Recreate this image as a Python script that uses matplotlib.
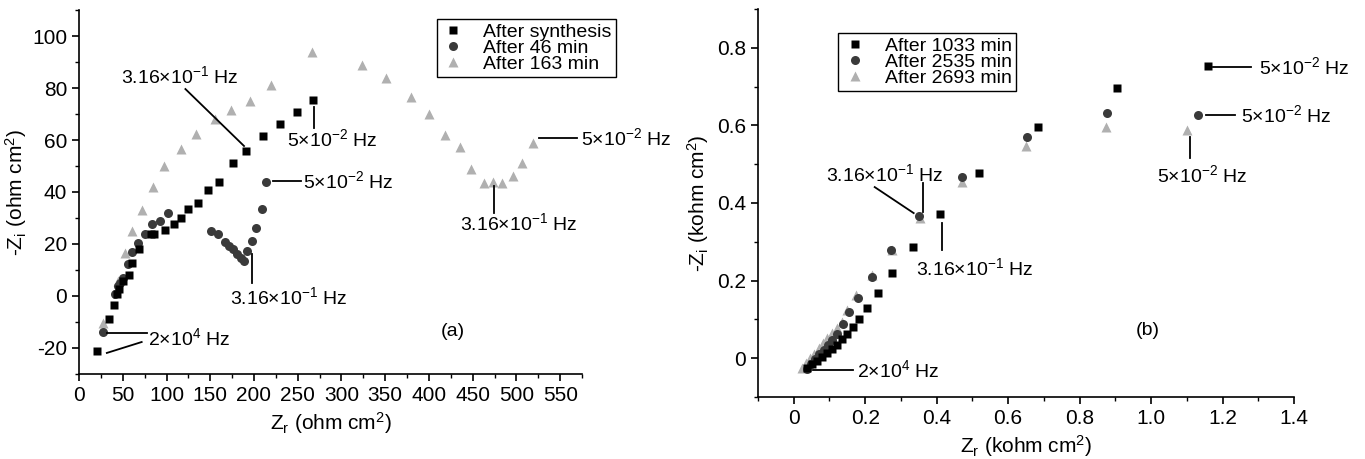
import matplotlib
matplotlib.use("Agg")
import matplotlib.pyplot as plt
from matplotlib.ticker import MultipleLocator

plt.rcParams['font.family'] = ['Liberation Sans', 'DejaVu Sans']
plt.rcParams['mathtext.fontset'] = 'custom'
plt.rcParams['mathtext.rm'] = 'Liberation Sans'
plt.rcParams['mathtext.it'] = 'Liberation Sans'
plt.rcParams['axes.unicode_minus'] = False
plt.rcParams['font.size'] = 14

# panel (a), ohm cm2
a_synth_x = [20, 34, 40, 43, 46, 50, 57, 60, 69, 82, 86, 98, 108, 117, 125, 136, 147, 160, 176, 191, 210, 230, 249, 267]
a_synth_y = [-21, -8.8, -3.5, 0.8, 2.7, 5.8, 8, 12.7, 18, 24, 23.8, 25.4, 27.7, 30, 33.4, 35.8, 40.8, 44, 51, 55.8, 61.4, 66, 70.8, 75.4]
a_46_x = [27, 41, 45, 47, 50, 56, 61, 67, 75, 83, 92, 102, 151, 159, 167, 172, 176, 181, 185, 189, 192, 198, 202, 209, 214]
a_46_y = [-14, 0.8, 3.8, 5, 7, 12.3, 17, 20.4, 23.8, 27.7, 28.8, 32, 25, 23.8, 20.8, 19.2, 18, 16.2, 14.6, 13.5, 17.3, 21, 26, 33.5, 44]
a_163_x = [27, 45, 53, 61, 72, 84, 97, 116, 134, 155, 174, 195, 220, 266, 323, 351, 379, 400, 418, 436, 448, 463, 473, 483, 496, 506, 519]
a_163_y = [-10.5, 5.8, 16.5, 25, 33, 42, 50, 56.5, 62.5, 68, 71.5, 75, 81, 94, 89, 84, 76.5, 70, 62, 57.5, 49, 43.5, 44, 43.5, 46, 51, 59]

# panel (b), kohm cm2
b_1033_x = [0.036, 0.05, 0.064, 0.078, 0.092, 0.106, 0.120, 0.134, 0.148, 0.165, 0.182, 0.204, 0.235, 0.274, 0.333, 0.408, 0.518, 0.683, 0.905, 1.158]
b_1033_y = [-0.024, -0.016, -0.008, 0.003, 0.013, 0.023, 0.034, 0.049, 0.062, 0.080, 0.100, 0.129, 0.168, 0.219, 0.286, 0.372, 0.477, 0.597, 0.697, 0.752]
b_2535_x = [0.036, 0.048, 0.06, 0.072, 0.084, 0.096, 0.108, 0.12, 0.137, 0.154, 0.179, 0.218, 0.271, 0.350, 0.470, 0.652, 0.878, 1.13]
b_2535_y = [-0.028, -0.015, -0.003, 0.01, 0.022, 0.035, 0.048, 0.062, 0.088, 0.119, 0.155, 0.209, 0.279, 0.366, 0.467, 0.570, 0.632, 0.627]
b_2693_x = [0.022, 0.034, 0.046, 0.058, 0.07, 0.082, 0.094, 0.106, 0.12, 0.134, 0.149, 0.173, 0.218, 0.274, 0.352, 0.472, 0.649, 0.873, 1.10]
b_2693_y = [-0.024, -0.012, 0.0, 0.012, 0.025, 0.038, 0.051, 0.064, 0.078, 0.093, 0.124, 0.163, 0.214, 0.279, 0.361, 0.455, 0.547, 0.597, 0.588]

BLACK = 'black'
DARK = '#3a3a3a'
LIGHT = '#b0b0b0'

F316 = r'3.16$\times$10$^{-1}$ Hz'
F5 = r'5$\times$10$^{-2}$ Hz'
F2 = r'2$\times$10$^{4}$ Hz'

fig = plt.figure(figsize=(13.65, 4.59), dpi=100)
axa = fig.add_axes([0.0579, 0.1852, 0.3685, 0.7930])
axb = fig.add_axes([0.5553, 0.1351, 0.3927, 0.8453])


def style(ax):
    ax.spines['top'].set_visible(False)
    ax.spines['right'].set_visible(False)
    ax.tick_params(which='major', direction='out', length=5, width=1.2, labelsize=15)
    ax.tick_params(which='minor', direction='out', length=3, width=1)
    for s in ('left', 'bottom'):
        ax.spines[s].set_linewidth(1.2)


def seg(ax, x0, y0, x1, y1):
    ax.plot([x0, x1], [y0, y1], color='black', lw=1.3, clip_on=False)


# ---- (a)
axa.plot(a_163_x, a_163_y, '^', color=LIGHT, ms=6.5, mec='none', label='After 163 min', clip_on=False)
axa.plot(a_46_x, a_46_y, 'o', color=DARK, ms=6.5, mec='none', label='After 46 min', clip_on=False)
axa.plot(a_synth_x, a_synth_y, 's', color=BLACK, ms=5.5, mec='none', label='After synthesis', clip_on=False)
axa.set_xlim(0, 575)
axa.set_ylim(-30, 110)
axa.xaxis.set_major_locator(MultipleLocator(50))
axa.xaxis.set_minor_locator(MultipleLocator(25))
axa.yaxis.set_major_locator(MultipleLocator(20))
axa.yaxis.set_minor_locator(MultipleLocator(10))
style(axa)
axa.set_xlabel(r'Z$_r$ (ohm cm$^2$)', fontsize=15)
axa.set_ylabel(r'-Z$_i$ (ohm cm$^2$)', fontsize=15, labelpad=2)

seg(axa, 121.6, 79.6, 188.6, 57.7)
axa.text(115, 84.6, F316, ha='center', va='center')
seg(axa, 269, 72.7, 269, 64.6)
axa.text(289, 60.4, F5, ha='center', va='center')
seg(axa, 221.6, 44.2, 253.4, 44.2)
axa.text(255.7, 44.2, F5, ha='left', va='center')
seg(axa, 197.7, 16.2, 197.7, 5)
axa.text(240, -0.4, F316, ha='center', va='center')
seg(axa, 31.8, -14.2, 77.3, -14.2)
seg(axa, 31.8, -21.9, 71.6, -17.7)
axa.text(78.4, -16.2, F2, ha='left', va='center')
seg(axa, 526, 60.8, 569, 60.8)
axa.text(574, 60.8, F5, ha='left', va='center', clip_on=False)
seg(axa, 474, 42.3, 474, 31.9)
axa.text(503, 28, F316, ha='center', va='center')
axa.text(427, -13.5, '(a)', ha='center', va='center')

h, l = axa.get_legend_handles_labels()
leg = axa.legend(h[::-1], l[::-1], loc='upper left', bbox_to_anchor=(0.320, 0.9586),
                 bbox_transform=fig.transFigure, borderaxespad=0, borderpad=0.2,
                 labelspacing=-0.08, handletextpad=0.9, handlelength=1.3,
                 fancybox=False, edgecolor='black', framealpha=1, fontsize=14)
leg.get_frame().set_linewidth(1.0)

# ---- (b)
axb.plot(b_2693_x, b_2693_y, '^', color=LIGHT, ms=6.5, mec='none', label='After 2693 min')
axb.plot(b_2535_x, b_2535_y, 'o', color=DARK, ms=6.5, mec='none', label='After 2535 min')
axb.plot(b_1033_x, b_1033_y, 's', color=BLACK, ms=5.5, mec='none', label='After 1033 min')
axb.set_xlim(-0.1, 1.4)
axb.set_ylim(-0.1, 0.9)
axb.xaxis.set_minor_locator(MultipleLocator(0.1))
axb.yaxis.set_minor_locator(MultipleLocator(0.1))
axb.set_xticks([0, 0.2, 0.4, 0.6, 0.8, 1.0, 1.2, 1.4])
axb.set_xticklabels(['0', '0.2', '0.4', '0.6', '0.8', '1.0', '1.2', '1.4'])
axb.set_yticks([0, 0.2, 0.4, 0.6, 0.8])
axb.set_yticklabels(['0', '0.2', '0.4', '0.6', '0.8'])
style(axb)
axb.set_xlabel(r'Z$_r$ (kohm cm$^2$)', fontsize=15)
axb.set_ylabel(r'-Z$_i$ (kohm cm$^2$)', fontsize=15)

seg(axb, 0.2266, 0.441, 0.3357, 0.374)
seg(axb, 0.3608, 0.4516, 0.3608, 0.3768)
axb.text(0.2545, 0.475, F316, ha='center', va='center')
seg(axb, 0.414, 0.348, 0.414, 0.279)
axb.text(0.506, 0.232, F316, ha='center', va='center')
seg(axb, 0.053, -0.031, 0.165, -0.031)
axb.text(0.176, -0.031, F2, ha='left', va='center')
seg(axb, 1.172, 0.751, 1.281, 0.751)
axb.text(1.303, 0.751, F5, ha='left', va='center', clip_on=False)
seg(axb, 1.155, 0.627, 1.236, 0.627)
axb.text(1.253, 0.627, F5, ha='left', va='center', clip_on=False)
seg(axb, 1.108, 0.570, 1.108, 0.516)
axb.text(1.144, 0.472, F5, ha='center', va='center')
axb.text(0.990, 0.072, '(b)', ha='center', va='center')

h, l = axb.get_legend_handles_labels()
leg = axb.legend(h[::-1], l[::-1], loc='upper left', bbox_to_anchor=(0.6139, 0.928),
                 bbox_transform=fig.transFigure, borderaxespad=0, borderpad=0.2,
                 labelspacing=-0.08, handletextpad=0.9, handlelength=1.3,
                 fancybox=False, edgecolor='black', framealpha=1, fontsize=14)
leg.get_frame().set_linewidth(1.0)

fig.savefig('out.png', dpi=100)
